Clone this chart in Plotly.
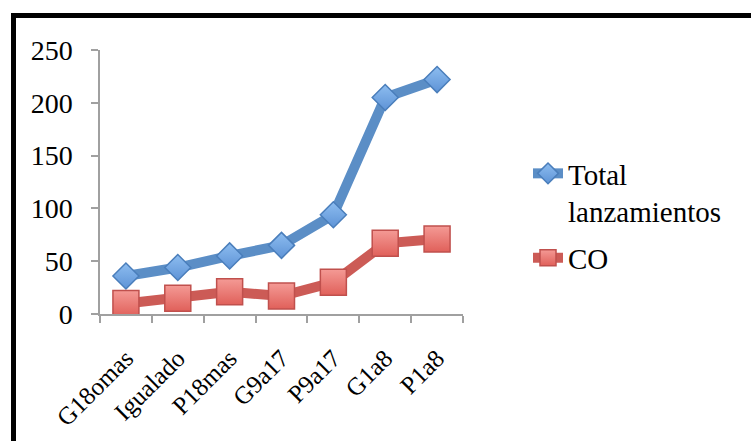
import plotly.graph_objects as go

# Categories and series
categorias = ["G18omas", "Igualado", "P18mas", "G9a17", "P9a17", "G1a8", "P1a8"]
total_lanzamientos = [36, 44, 55, 65, 94, 205, 222]
co = [10, 15, 21, 17, 30, 67, 71]
y_ticks = [0, 50, 100, 150, 200, 250]

FONT = "Liberation Serif"
W, H = 751, 441
L, R, T, B = 100, 288, 50, 127
pw, ph = W - L - R, H - T - B


def px_x(px):
    return (px - L) / pw


def px_y(py):
    return (H - B - py) / ph


fig = go.Figure()

fig.add_trace(go.Scatter(
    x=categorias, y=total_lanzamientos, name="Total<br>lanzamientos",
    legendgroup="total", mode="lines+markers",
    line=dict(color="#5B8EC6", width=10),
    marker=dict(symbol="diamond", size=20, color="#8DBDF0",
                gradient=dict(type="vertical", color="#5E93D6"),
                line=dict(color="#4A7EBB", width=1.5)),
))
fig.add_trace(go.Scatter(
    x=categorias, y=co, name="CO",
    legendgroup="co", mode="lines+markers",
    line=dict(color="#CC5B56", width=10),
    marker=dict(symbol="square", size=26, color="#F49A95",
                gradient=dict(type="vertical", color="#E0605A"),
                line=dict(color="#C0504D", width=1.5)),
))

# Chart-area frame (left and top edges visible)
fig.add_shape(type="rect", xref="paper", yref="paper",
              x0=px_x(13.5), x1=px_x(780), y0=px_y(470), y1=px_y(15.5),
              line=dict(color="black", width=5), fillcolor="rgba(0,0,0,0)",
              layer="below")

fig.update_layout(
    width=W, height=H,
    margin=dict(l=L, r=R, t=T, b=B, autoexpand=False),
    paper_bgcolor="white", plot_bgcolor="white",
    font=dict(family=FONT, size=27, color="black"),
    showlegend=True,
    legend=dict(x=px_x(528), y=px_y(148), xanchor="left", yanchor="top",
                font=dict(family=FONT, size=29, color="black"),
                valign="top", traceorder="grouped", tracegroupgap=6,
                itemwidth=30, bgcolor="rgba(0,0,0,0)"),
    xaxis=dict(type="category", range=[-0.5, 6.5], tickangle=-45,
               automargin=False,
               showline=True, linecolor="#A0A0A0", linewidth=1.5,
               ticks="outside", tickson="boundaries", ticklen=7,
               tickcolor="#A0A0A0", tickwidth=1.5,
               showgrid=False, zeroline=False, ticklabelstandoff=18,
               tickfont=dict(family=FONT, size=25)),
    yaxis=dict(range=[0, 250], tickvals=y_ticks, automargin=False,
               showline=True, linecolor="#A0A0A0", linewidth=1.5,
               ticks="outside", ticklen=7, tickcolor="#A0A0A0", tickwidth=1.5,
               showgrid=False, zeroline=False, ticklabelstandoff=13,
               tickfont=dict(family=FONT, size=28)),
)

fig.write_html("out.html")
